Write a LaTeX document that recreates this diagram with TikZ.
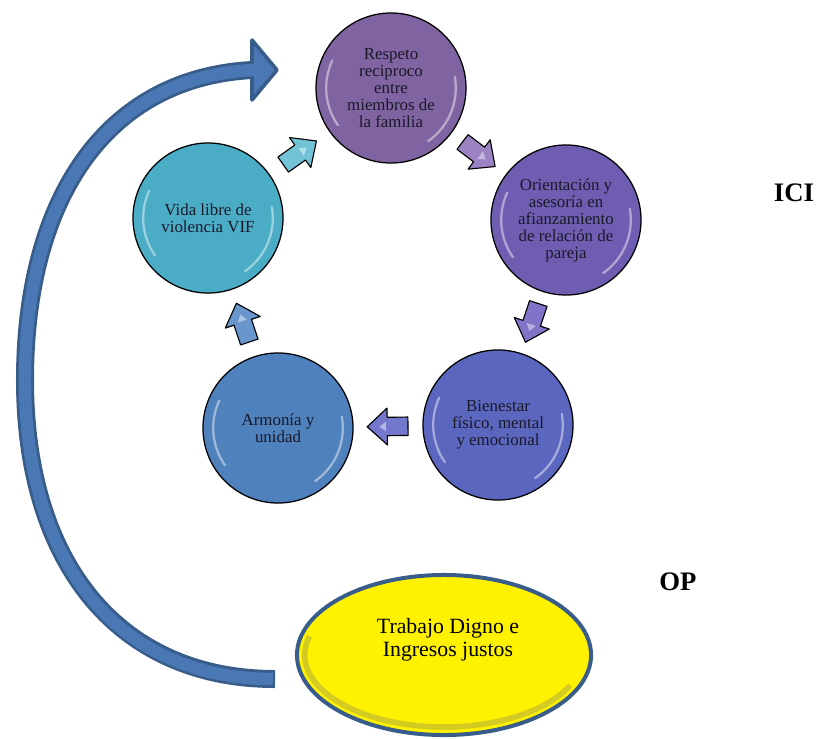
\documentclass[tikz,border=0pt]{standalone}
\usepackage{fontspec}
\setmainfont{Liberation Serif}
\usetikzlibrary{shapes.geometric,calc}

\definecolor{ringA}{RGB}{128,100,162}
\definecolor{ringB}{RGB}{111,93,178}
\definecolor{ringC}{RGB}{91,103,190}
\definecolor{ringD}{RGB}{79,129,189}
\definecolor{ringE}{RGB}{75,172,198}
\definecolor{arrowA}{RGB}{155,130,195}
\definecolor{arrowB}{RGB}{128,115,200}
\definecolor{arrowC}{RGB}{115,120,205}
\definecolor{arrowD}{RGB}{105,150,205}
\definecolor{arrowE}{RGB}{115,195,215}
\definecolor{bandDark}{RGB}{56,93,138}
\definecolor{bandFill}{RGB}{74,120,180}
\definecolor{inkText}{RGB}{25,25,40}

\tikzset{
  stage/.style={circle, draw=black, line width=0.9pt, minimum size=3.75cm,
    inner sep=0pt, align=center, text=inkText,
    font=\fontsize{12}{12.1}\selectfont},
  cyclearrow/.pic={
    \filldraw[fill=#1, draw=black, line width=0.8pt, line join=round]
      (-0.5cm,-0.23cm) -- (0.02cm,-0.23cm) -- (0.02cm,-0.46cm) -- (0.52cm,0cm)
      -- (0.02cm,0.46cm) -- (0.02cm,0.23cm) -- (-0.5cm,0.23cm) -- cycle;
    \fill[white, opacity=0.45] (0.05cm,-0.12cm) -- (0.22cm,0cm) -- (0.05cm,0.12cm) -- cycle;
  },
  gloss/.style={white, opacity=0.45, line width=1.6pt, line cap=round},
  tag/.style={font=\bfseries\fontsize{19}{22}\selectfont},
}

\begin{document}
\begin{tikzpicture}[x=0.025cm,y=-0.025cm]
\useasboundingbox (0,0) rectangle (816,738);

% Big return arrow
\coordinate (tail) at (275,679);
\coordinate (bend) at (25,380);
\coordinate (headbase) at (252,70);
\coordinate (tip) at (277,70);
\draw[bandDark,line width=0.45cm] (tail) .. controls (120,679) and (25,565) .. (bend)
  .. controls (25,200) and (105,78) .. (headbase);
\filldraw[fill=bandFill,draw=bandDark,line width=0.09cm,line join=round]
  (252,40) -- (tip) -- (252,100) -- cycle;
\draw[bandFill,line width=0.31cm] (tail) ++(-2,0) .. controls (120,679) and (25,565) .. (bend)
  .. controls (25,200) and (105,78) .. (headbase) -- (258,70);

% Cycle circles
\node[stage,fill=ringA] (respeto) at (391,88) {Respeto\\reciproco\\entre\\miembros de\\la familia};
\node[stage,fill=ringB] (orienta) at (566,220) {Orientación y\\asesoría en\\afianzamiento\\de relación de\\pareja};
\node[stage,fill=ringC] (bienestar) at (498,425) {Bienestar\\físico, mental\\y emocional};
\node[stage,fill=ringD] (armonia) at (278,428) {Armonía y\\unidad};
\node[stage,fill=ringE] (vida) at (208,218) {Vida libre de\\violencia VIF};

% Shine on the circles
\foreach \n in {respeto,orienta,bienestar,armonia,vida} {
  \draw[gloss] (\n.center) ++(155:1.62cm) arc[start angle=155, end angle=215, radius=1.62cm];
  \draw[gloss] (\n.center) ++(-55:1.62cm) arc[start angle=-55, end angle=10, radius=1.62cm];
}

% Arrows between circles
\foreach \a/\b/\c in {respeto/orienta/arrowA, orienta/bienestar/arrowB,
    bienestar/armonia/arrowC, armonia/vida/arrowD, vida/respeto/arrowE} {
  \path let \p1=($(\b)-(\a)$), \n1={atan2(\y1,\x1)} in
    ($(\a)!0.5!(\b)$) pic[rotate=\n1] {cyclearrow=\c};
}

% Base ellipse
\node[ellipse,draw=bandDark,line width=0.1cm,fill=yellow,minimum width=7.35cm,
  minimum height=4cm,inner sep=0pt] (trabajo) at (444,655) {};
\draw[yellow!65!black,opacity=0.55,line width=0.14cm]
  (trabajo.center) ++(165:3.48cm and 1.8cm)
  arc[start angle=165, end angle=335, x radius=3.48cm, y radius=1.8cm];
\node[align=center,font=\fontsize{15.5}{16.5}\selectfont] (trabajotxt) at (448,640)
  {Trabajo Digno e\\Ingresos justos};

% Labels
\node[tag] (ici) at (794,193) {ICI};
\node[tag] (op) at (678,582) {OP};

\end{tikzpicture}
\end{document}
